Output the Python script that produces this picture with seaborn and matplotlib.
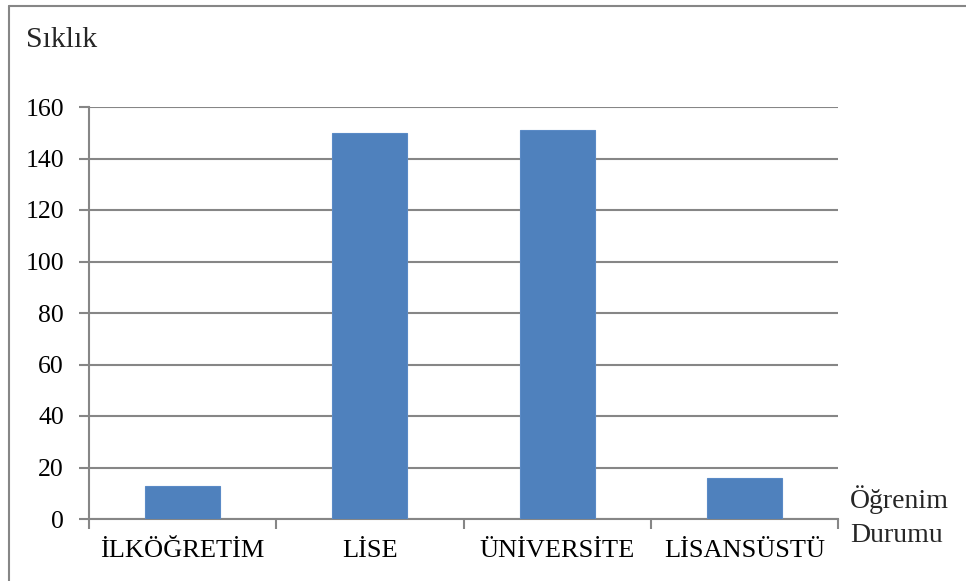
import matplotlib
matplotlib.use("Agg")
import matplotlib.pyplot as plt
from matplotlib.lines import Line2D
import seaborn as sns
import pandas as pd

categories = ["İLKÖĞRETİM", "LİSE", "ÜNİVERSİTE", "LİSANSÜSTÜ"]
counts = [13, 150, 151, 16]
y_ticks = [0, 20, 40, 60, 80, 100, 120, 140, 160]

sns.set_theme(style="white")
plt.rcParams["font.family"] = ["Liberation Serif", "DejaVu Serif"]

grey = "#868686"
bar_color = "#4F81BD"

fig = plt.figure(figsize=(9.66, 5.81), dpi=100)
ax = fig.add_axes([89 / 966, 62 / 581, (838 - 89) / 966, (519 - 107) / 581])

df = pd.DataFrame({"Öğrenim Durumu": categories, "Sıklık": counts})
sns.barplot(data=df, x="Öğrenim Durumu", y="Sıklık", color=bar_color,
            width=0.4, saturation=1, linewidth=0.8, edgecolor="#5A8AC6",
            ax=ax, zorder=3)

ax.set_xlim(-0.5, len(categories) - 0.5)
ax.set_ylim(0, 160)
ax.set_yticks(y_ticks)
ax.yaxis.grid(True, color=grey, linewidth=1.5)
ax.set_axisbelow(True)
ax.set_xlabel("")
ax.set_ylabel("")

for side in ["top", "right"]:
    ax.spines[side].set_visible(False)
for side in ["left", "bottom"]:
    ax.spines[side].set_color(grey)
    ax.spines[side].set_linewidth(1.5)

ax.tick_params(axis="y", which="major", length=7, width=1.5, color=grey,
               direction="out", labelsize=18.5, pad=11, left=True)
ax.tick_params(axis="x", which="major", length=0, labelsize=19, pad=15)
ax.set_xticks([i - 0.5 for i in range(len(categories) + 1)], minor=True)
ax.tick_params(axis="x", which="minor", length=7, width=1.5, color=grey,
               direction="out", bottom=True)
for lbl in ax.get_xticklabels() + ax.get_yticklabels():
    lbl.set_color("black")

fig.text(26 / 966, 1 - 40 / 581, "Sıklık", fontsize=21.5, ha="left", va="center")
fig.text(850 / 966, 1 - 500 / 581, "Öğrenim", fontsize=20, ha="left", va="center")
fig.text(850 / 966, 1 - 535 / 581, "Durumu", fontsize=20, ha="left", va="center")

# outer frame: top and left edges
frame_kw = dict(color=grey, linewidth=1.5, transform=fig.transFigure)
fig.add_artist(Line2D([9 / 966, 1], [1 - 6 / 581, 1 - 6 / 581], **frame_kw))
fig.add_artist(Line2D([9 / 966, 9 / 966], [0, 1 - 6 / 581], **frame_kw))

fig.savefig("out.png", dpi=100)
